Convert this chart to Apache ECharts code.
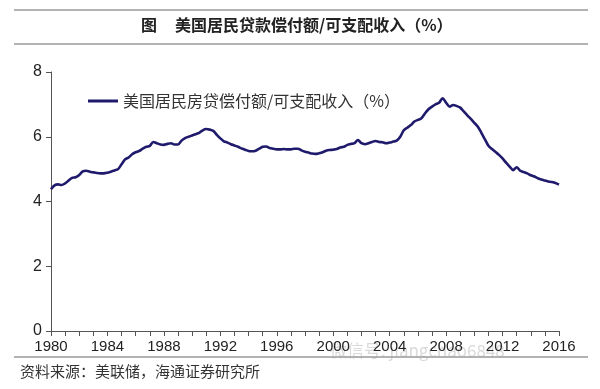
<!DOCTYPE html>
<html>
<head>
<meta charset="utf-8">
<script src="https://cdn.jsdelivr.net/npm/echarts@6/dist/echarts.min.js"></script>
<style>html,body{margin:0;padding:0;background:#fff}#c{width:600px;height:389px}</style>
</head>
<body>
<div id="c"></div>
<script>
// Data: quarterly ratio of US household mortgage debt service to disposable income (%)
const startYear = 1980;
const ratio = [
  4.38, 4.50, 4.53, 4.51,
  4.56, 4.65, 4.73, 4.75,
  4.82, 4.93, 4.95, 4.92,
  4.90, 4.88, 4.87, 4.87,
  4.89, 4.92, 4.96, 5.00,
  5.15, 5.30, 5.36, 5.46,
  5.52, 5.56, 5.63, 5.69,
  5.72, 5.84, 5.80, 5.76,
  5.75, 5.78, 5.80, 5.76,
  5.76, 5.88, 5.96, 6.00,
  6.04, 6.08, 6.12, 6.20,
  6.24, 6.22, 6.18, 6.06,
  5.95, 5.86, 5.82, 5.77,
  5.73, 5.69, 5.64, 5.60,
  5.56, 5.55, 5.57, 5.63,
  5.69, 5.70, 5.65, 5.63,
  5.61, 5.61, 5.62, 5.61,
  5.61, 5.63, 5.63, 5.58,
  5.54, 5.51, 5.48, 5.47,
  5.49, 5.52, 5.57, 5.59,
  5.60, 5.62, 5.67, 5.69,
  5.75, 5.78, 5.80, 5.90,
  5.80, 5.77, 5.80, 5.84,
  5.87, 5.84, 5.83, 5.80,
  5.82, 5.85, 5.88, 6.00,
  6.20, 6.28, 6.36, 6.47,
  6.52, 6.57, 6.72, 6.85,
  6.93, 7.00, 7.05, 7.19,
  7.05, 6.93, 6.98, 6.95,
  6.90, 6.78, 6.66, 6.55,
  6.43, 6.31, 6.12, 5.92,
  5.72, 5.62, 5.53, 5.44,
  5.33, 5.20, 5.08, 4.97,
  5.06, 4.95, 4.91, 4.87,
  4.81, 4.77, 4.72, 4.68,
  4.65, 4.62, 4.60, 4.57,
  4.52
];
const seriesName = '美国居民房贷偿付额/可支配收入（%）';
const titleFig = '图';
const titleText = '美国居民贷款偿付额/可支配收入（%）';
const sourceText = '资料来源：美联储，海通证券研究所';
const xMin = 1980, xMax = 2016, xLabelStep = 4;
const yMin = 0, yMax = 8, yStep = 2;

const points = ratio.map((v, i) => [startYear + i / 4, v]);

const chart = echarts.init(document.getElementById('c'), null, {renderer: 'canvas'});
const font = 'Liberation Sans, Arial, sans-serif';
const cjk = '"Noto Sans CJK SC", sans-serif';
chart.setOption({
  animation: false,
  backgroundColor: '#fff',
  grid: {left: 51, right: 41, top: 72, bottom: 58, containLabel: false},
  legend: {
    left: 83, top: 88,
    icon: 'rect', itemWidth: 30, itemHeight: 3, itemGap: 6,
    textStyle: {fontFamily: cjk, fontSize: 16, color: '#333'},
    data: [seriesName]
  },
  xAxis: {
    type: 'value', min: xMin, max: xMax, interval: 1,
    axisLine: {lineStyle: {color: '#555', width: 1}},
    axisTick: {show: true, inside: false, length: 5, lineStyle: {color: '#555'}},
    splitLine: {show: false},
    axisLabel: {
      fontFamily: font, fontSize: 15, color: '#222', margin: 8,
      formatter: v => (v % xLabelStep === 0 ? String(v) : ''),
      showMinLabel: true, showMaxLabel: true
    }
  },
  yAxis: {
    type: 'value', min: yMin, max: yMax, interval: yStep,
    axisLine: {show: true, lineStyle: {color: '#555', width: 1}},
    axisTick: {show: true, length: 5, lineStyle: {color: '#555'}},
    splitLine: {show: false},
    axisLabel: {fontFamily: font, fontSize: 16, color: '#222', margin: 9}
  },
  series: [{
    name: seriesName,
    type: 'line',
    data: points,
    showSymbol: false,
    symbol: 'none',
    smooth: 0.3,
    lineStyle: {color: '#1f1a6b', width: 2.6},
    itemStyle: {color: '#1f1a6b'}
  }],
  graphic: [
    {type: 'line', shape: {x1: 14, y1: 10, x2: 588, y2: 10}, style: {stroke: '#666', lineWidth: 1}},
    {type: 'line', shape: {x1: 14, y1: 44, x2: 588, y2: 44}, style: {stroke: '#666', lineWidth: 1}},
    {type: 'text', left: 141, top: 17, style: {text: titleFig, font: '600 16px "Noto Sans CJK SC", sans-serif', fill: '#222'}},
    {type: 'text', left: 175, top: 17, style: {text: titleText, font: '600 16px "Noto Sans CJK SC", sans-serif', fill: '#222'}},
    {type: 'line', shape: {x1: 14, y1: 357, x2: 588, y2: 357}, style: {stroke: '#666', lineWidth: 1}},
    {type: 'text', left: 20, top: 364, style: {text: sourceText, font: '15px "Noto Sans CJK SC", sans-serif', fill: '#333'}},
    {type: 'text', left: 330, top: 342, style: {text: '微信号: jiangchao6848', font: '17px "Noto Sans CJK SC", sans-serif', fill: 'rgba(170,170,170,0.45)'}}
  ]
});
</script>
</body>
</html>
